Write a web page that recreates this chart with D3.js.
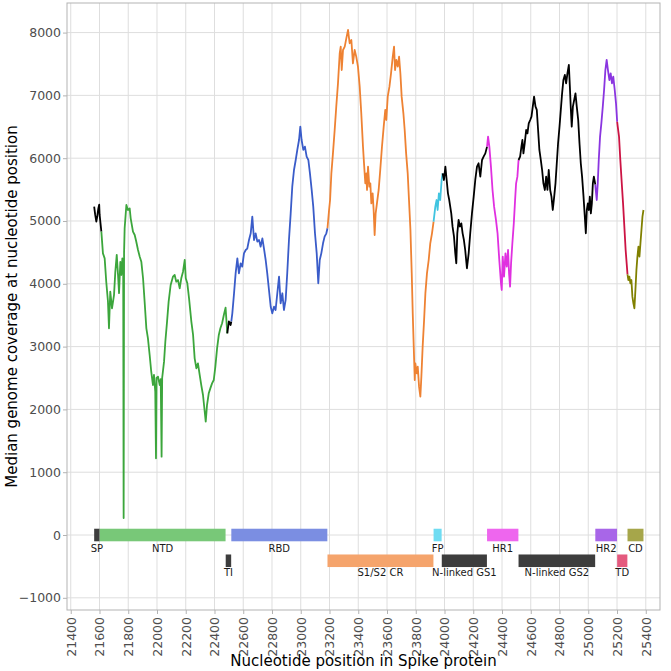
<!DOCTYPE html>
<html><head><meta charset="utf-8">
<script src="https://cdn.jsdelivr.net/npm/d3@7"></script>
<style>body{margin:0;background:#fff}svg{display:block}</style>
</head><body>
<script>
// ---------- DATA ----------
const covPos = [21563,21570,21578,21585,21592,21598,21601,21613,21624,21636,21647,21659,21666,21675,21687,21701,21710,21720,21729,21736,21745,21752,21759,21765,21768,21771,21775,21787,21798,21810,21817,21833,21845,21856,21868,21880,21891,21903,21914,21926,21937,21949,21960,21972,21979,21988,21993,21997,22007,22019,22026,22032,22036,22049,22058,22070,22081,22095,22111,22123,22134,22146,22158,22169,22181,22193,22200,22211,22223,22239,22251,22262,22274,22285,22297,22308,22320,22332,22339,22348,22360,22371,22383,22395,22406,22418,22430,22441,22453,22465,22477,22489,22500,22512,22517,22524,22536,22547,22559,22570,22582,22593,22605,22617,22628,22640,22652,22663,22675,22686,22698,22710,22721,22733,22744,22756,22767,22779,22791,22802,22814,22825,22837,22849,22860,22872,22883,22895,22906,22918,22930,22941,22953,22965,22976,22988,22997,23006,23018,23029,23041,23053,23064,23076,23087,23099,23111,23122,23132,23143,23155,23166,23178,23186,23197,23204,23213,23224,23236,23247,23259,23271,23278,23285,23294,23306,23317,23329,23340,23352,23363,23375,23386,23398,23410,23421,23433,23440,23449,23456,23461,23468,23477,23484,23491,23500,23507,23514,23521,23530,23542,23553,23565,23577,23588,23595,23605,23617,23628,23640,23649,23656,23665,23675,23684,23693,23702,23714,23723,23733,23744,23753,23763,23772,23779,23786,23793,23797,23807,23814,23823,23832,23839,23848,23858,23867,23878,23890,23901,23913,23924,23936,23945,23952,23961,23970,23980,23987,23996,24006,24015,24024,24033,24047,24056,24066,24075,24082,24089,24098,24107,24117,24126,24135,24144,24156,24168,24179,24191,24203,24214,24226,24237,24249,24261,24272,24284,24296,24303,24312,24323,24334,24345,24358,24369,24381,24393,24398,24405,24414,24424,24433,24442,24449,24456,24463,24472,24482,24491,24498,24507,24515,24526,24535,24542,24549,24558,24568,24577,24586,24596,24605,24614,24623,24633,24642,24651,24660,24670,24679,24688,24698,24707,24716,24725,24735,24744,24753,24763,24772,24781,24790,24800,24809,24818,24827,24837,24846,24855,24865,24872,24878,24885,24893,24902,24911,24920,24930,24939,24948,24957,24967,24976,24983,24990,24997,25004,25011,25018,25025,25032,25039,25049,25052,25059,25066,25073,25082,25091,25101,25110,25119,25128,25137,25147,25156,25165,25174,25184,25193,25201,25205,25214,25223,25233,25242,25251,25260,25273,25279,25286,25293,25300,25307,25314,25321,25328,25335,25342,25349,25356,25363,25370,25377,25384];
const covVal = [5230,5100,4990,5080,5200,5260,5096,4830,4485,4405,4033,3715,3291,3875,3610,3820,4190,4460,4140,3850,4350,4140,4405,4200,270,4500,4884,5255,5175,5200,5043,4830,4777,4670,4538,4432,4352,4088,3715,3291,3132,2866,2600,2388,2550,2282,1221,2500,2521,2388,2480,1247,2500,2760,3078,3397,3715,3981,4113,4140,4033,4060,3928,4088,4192,4380,4088,4008,3769,3397,3185,2813,2654,2734,2548,2388,2229,1963,1804,2070,2256,2335,2415,2468,2680,2973,3185,3291,3371,3503,3620,3211,3400,3344,3400,3530,3849,4167,4406,4167,4326,4273,4485,4538,4560,4697,4804,5069,4697,4804,4671,4697,4591,4724,4565,4379,4167,3901,3635,3530,3635,3583,3849,4114,3690,3849,3583,3743,4167,4697,5122,5546,5812,5971,6131,6290,6502,6290,6131,6184,6024,5971,5759,5494,5228,4804,4485,4008,4379,4485,4645,4751,4804,4884,5175,5334,5759,6077,6449,6820,7192,7670,7777,7404,7723,7777,7909,8041,7830,7882,7510,7723,7617,7457,7139,6715,6183,5919,5600,5759,5494,5865,5547,5600,5281,5440,5175,4777,5122,5281,5494,5812,6183,6502,6768,6608,6980,7139,7352,7617,7776,7404,7564,7457,7617,7352,6980,6715,6449,6077,5759,5334,4857,4167,3530,2999,2468,2734,2574,2680,2362,2202,2521,2999,3424,3849,4167,4379,4645,4804,4990,5228,5334,5175,5440,5334,5653,5759,5653,5865,5653,5441,5334,5122,4910,4751,4485,4326,4804,5016,4910,4963,4804,4697,4538,4247,4485,4804,5122,5387,5653,5865,5919,5706,5971,6024,6077,6184,6343,6184,5865,5494,5228,5016,4804,4379,4008,3901,4432,4114,4485,4273,4538,4167,3954,4326,4645,4963,5334,5600,5706,5971,6024,6184,6290,6077,6237,6449,6396,6555,6608,6661,6820,6980,6820,6768,6449,6131,5971,5812,5600,5494,5706,5494,5812,5494,5387,5175,5387,5600,5919,6237,6502,6768,7033,7245,7325,7192,7351,7484,7139,6820,6502,6820,6927,7033,6820,6608,6237,5919,5706,5387,5069,4804,5175,5281,5175,5387,5122,5281,5600,5706,5580,5494,5334,5600,5971,6343,6555,6820,7086,7404,7564,7404,7245,7351,7192,7298,7086,6874,6580,6502,6343,5971,5600,5281,4910,4538,4150,4060,4114,4008,4060,3795,3690,3610,3901,4220,4432,4591,4432,4645,4857,5069,5175];

const domainNames = ["SP","NTD","TI","RBD","S1/S2 CR","FP","N-linked GS1","HR1","N-linked GS2","HR2","TD","CD"];
const domainStart = [21563,21602,22478,22517,23186,23924,23981,24296,24515,25049,25201,25273];
const domainEnd   = [21601,22477,22516,23185,23923,23980,24295,24514,25048,25200,25272,25384];
const domainLane  = [0,0,1,0,1,0,1,0,1,0,1,0];

const xTicks = d3.range(21400, 25401, 200);
const yTicks = d3.range(-1000, 8001, 1000);

// ---------- STYLE ----------
const lineColor = {"SP":"#000000","NTD":"#3ca63c","TI":"#000000","RBD":"#3a5cc9","S1/S2 CR":"#ee8233","FP":"#40c4e0","N-linked GS1":"#000000","HR1":"#e030e0","N-linked GS2":"#000000","HR2":"#8a35e0","TD":"#cc1444","CD":"#808000"};
const barColor = {"SP":"#3d3d3d","NTD":"#78c878","TI":"#3d3d3d","RBD":"#7b8ee2","S1/S2 CR":"#f5a46c","FP":"#6fdcf2","N-linked GS1":"#3d3d3d","HR1":"#ee66ee","N-linked GS2":"#3d3d3d","HR2":"#a866e8","TD":"#e45a7e","CD":"#a6a64a"};
const laneCenter = [0, -410], laneHalf = 100, laneLabel = [-212, -600];

const W = 671, H = 671;
const P = {l: 67, r: 660, t: 3, b: 610};
const font = "'DejaVu Sans', sans-serif";

const svg = d3.select("body").append("svg").attr("width", W).attr("height", H);
const x = d3.scaleLinear().domain([21374, 25499]).range([P.l, P.r]);
const y = d3.scaleLinear().domain([-1194, 8471]).range([P.b, P.t]);

// grid
const g = svg.append("g");
g.selectAll(".vg").data(xTicks).join("line")
  .attr("x1", d => x(d)).attr("x2", d => x(d)).attr("y1", P.t).attr("y2", P.b)
  .attr("stroke", "#dedede").attr("stroke-width", 1);
g.selectAll(".hg").data(yTicks).join("line")
  .attr("y1", d => y(d)).attr("y2", d => y(d)).attr("x1", P.l).attr("x2", P.r)
  .attr("stroke", "#dedede").attr("stroke-width", 1);

// domain bars
const dom = domainNames.map((n, i) => ({name: n, s: domainStart[i], e: domainEnd[i], lane: domainLane[i]}));
svg.append("g").selectAll("rect").data(dom).join("rect")
  .attr("x", d => x(d.s)).attr("width", d => x(d.e) - x(d.s))
  .attr("y", d => y(laneCenter[d.lane] + laneHalf))
  .attr("height", d => y(laneCenter[d.lane] - laneHalf) - y(laneCenter[d.lane] + laneHalf))
  .attr("fill", d => barColor[d.name]);
svg.append("g").selectAll("text").data(dom).join("text")
  .attr("x", d => x((d.s + d.e) / 2)).attr("y", d => y(laneLabel[d.lane]))
  .attr("text-anchor", "middle").attr("dominant-baseline", "central")
  .attr("font-family", font).attr("font-size", 10).attr("fill", "#1a1a1a")
  .text(d => d.name);

// coverage line, coloured by domain
const pts = covPos.map((p, i) => ({p, v: covVal[i]}));
const line = d3.line().x(d => x(d.p)).y(d => y(d.v));
const lg = svg.append("g");
dom.forEach(d => {
  let idx = [];
  pts.forEach((q, i) => { if (q.p >= d.s && q.p <= d.e) idx.push(i); });
  if (!idx.length) return;
  const last = idx[idx.length - 1];
  if (last + 1 < pts.length) idx.push(last + 1);
  lg.append("path").datum(idx.map(i => pts[i]))
    .attr("d", line).attr("fill", "none")
    .attr("stroke", lineColor[d.name]).attr("stroke-width", 1.8)
    .attr("stroke-linejoin", "round");
});

// panel border
svg.append("rect").attr("x", P.l).attr("y", P.t).attr("width", P.r - P.l).attr("height", P.b - P.t)
  .attr("fill", "none").attr("stroke", "#b3b3b3").attr("stroke-width", 1);

// axes
const xa = svg.append("g").attr("transform", `translate(0,${P.b})`)
  .call(d3.axisBottom(x).tickValues(xTicks).tickSize(4).tickFormat(d3.format("d")));
xa.select(".domain").remove();
xa.selectAll("line").attr("stroke", "#b3b3b3");
xa.selectAll("text").attr("font-family", font).attr("font-size", 12.5).attr("fill", "#4d4d4d")
  .attr("transform", "rotate(-90)").attr("text-anchor", "end")
  .attr("x", -7).attr("y", 0).attr("dy", "0.35em");

const ya = svg.append("g").attr("transform", `translate(${P.l},0)`)
  .call(d3.axisLeft(y).tickValues(yTicks).tickSize(4).tickFormat(d3.format("d")));
ya.select(".domain").remove();
ya.selectAll("line").attr("stroke", "#b3b3b3");
ya.selectAll("text").attr("font-family", font).attr("font-size", 12.5).attr("fill", "#4d4d4d").attr("x", -6);

svg.append("text").attr("x", (P.l + P.r) / 2).attr("y", 666)
  .attr("text-anchor", "middle").attr("font-family", font).attr("font-size", 15).attr("fill", "#000")
  .text("Nucleotide position in Spike protein");
svg.append("text").attr("transform", `translate(17,${(P.t + P.b) / 2}) rotate(-90)`)
  .attr("text-anchor", "middle").attr("font-family", font).attr("font-size", 15).attr("fill", "#000")
  .text("Median genome coverage at nucleotide position");
</script>
</body></html>
